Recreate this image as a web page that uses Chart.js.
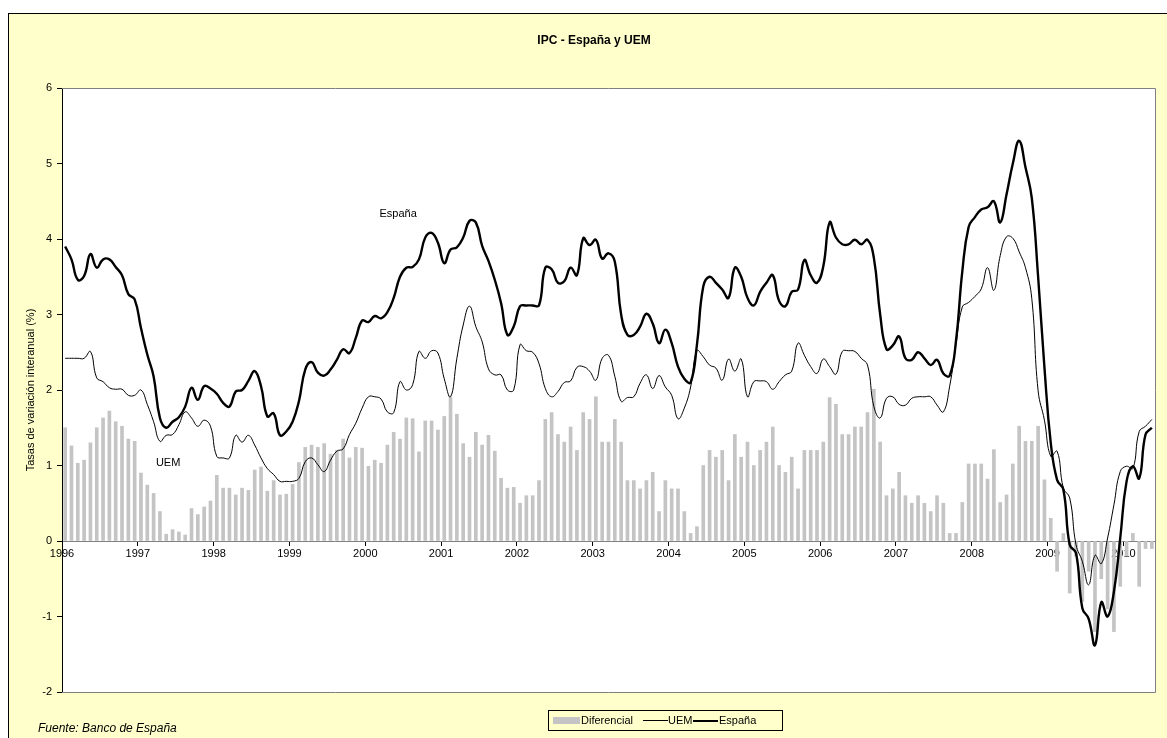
<!DOCTYPE html>
<html lang="es">
<head>
<meta charset="utf-8">
<title>IPC - España y UEM</title>
<script src="https://cdn.jsdelivr.net/npm/chart.js@4.4.1/dist/chart.umd.min.js"></script>
<style>
  body { margin: 0; width: 1167px; height: 738px; overflow: hidden; background: #fff;
         font-family: "Liberation Sans", Arial, sans-serif; position: relative; }
  #marco { position: absolute; left: 8px; top: 13px; width: 1180px; height: 740px;
           border: 1px solid #000; background: #FFFFCC; }
  #grafico { position: absolute; left: 0; top: 0; }
  #titulo { position: absolute; left: 0; width: 1188px; top: 33px; text-align: center;
            font-weight: bold; font-size: 12px; color: #000; }
  #fuente { position: absolute; left: 38px; top: 721px; font-style: italic; font-size: 12px; color: #000; }
  #leyenda { position: absolute; left: 548px; top: 710px; width: 233px; height: 19px;
             border: 1px solid #000; font-size: 11px; color: #000; }
  #leyenda span { position: absolute; top: 3px; }
  #leyenda i { position: absolute; display: block; }
</style>
</head>
<body>
<div id="marco"></div>
<canvas id="grafico" width="1167" height="738"></canvas>
<div id="titulo">IPC - España y UEM</div>
<div id="fuente">Fuente: Banco de España</div>
<div id="leyenda">
  <i style="left:4px;top:6px;width:27px;height:7px;background:#C4C4C4"></i>
  <span style="left:32px">Diferencial</span>
  <i style="left:94px;top:9px;width:25px;height:0;border-top:1px solid #000"></i>
  <span style="left:119px">UEM</span>
  <i style="left:144px;top:9px;width:25px;height:0;border-top:2px solid #000"></i>
  <span style="left:170px">España</span>
</div>
<script>
// meses desde enero de 1996 (indice 0) hasta mayo de 2010
var anios = [1996, 1997, 1998, 1999, 2000, 2001, 2002, 2003, 2004, 2005, 2006, 2007, 2008, 2009, 2010];

// Tasas de variacion interanual, Espana (linea gruesa)
var espana = [
  3.90, 3.73, 3.46, 3.51, 3.80, 3.62, 3.73, 3.73, 3.63, 3.52, 3.27, 3.20,
  2.82, 2.47, 2.18, 1.63, 1.50, 1.58, 1.64, 1.78, 2.03, 1.87, 2.05, 2.02,
  1.95, 1.83, 1.78, 1.98, 2.00, 2.12, 2.25, 2.05, 1.65, 1.69, 1.40, 1.45,
  1.58, 1.85, 2.27, 2.37, 2.23, 2.19, 2.27, 2.40, 2.54, 2.49, 2.69, 2.92,
  2.90, 2.98, 2.95, 3.03, 3.22, 3.50, 3.62, 3.63, 3.73, 4.02, 4.08, 3.95,
  3.68, 3.86, 3.89, 4.02, 4.24, 4.22, 3.91, 3.71, 3.46, 3.15, 2.73, 2.84,
  3.11, 3.12, 3.12, 3.12, 3.62, 3.60, 3.42, 3.44, 3.62, 3.52, 4.01, 3.92,
  3.99, 3.74, 3.81, 3.70, 3.00, 2.73, 2.73, 2.84, 3.01, 2.88, 2.62, 2.80,
  2.62, 2.31, 2.15, 2.10, 2.60, 3.37, 3.50, 3.42, 3.33, 3.22, 3.62, 3.50,
  3.22, 3.12, 3.30, 3.42, 3.52, 3.18, 3.11, 3.30, 3.33, 3.72, 3.52, 3.42,
  3.64, 4.22, 4.02, 3.93, 3.93, 3.99, 3.93, 3.99, 3.75, 3.00, 2.54, 2.59,
  2.71, 2.42, 2.40, 2.50, 2.42, 2.33, 2.40, 2.22, 2.19, 2.65, 3.57, 4.16,
  4.29, 4.39, 4.42, 4.50, 4.22, 4.59, 5.00, 5.30, 4.95, 4.54, 3.50, 2.30,
  1.30, 0.81, 0.68, -0.05, -0.16, -0.89, -1.03, -1.38, -0.81, -1.00, -0.67, 0.04,
  0.79, 0.99, 0.83, 1.41, 1.50
];

// Tasas de variacion interanual, UEM (linea fina)
var uem = [
  2.42, 2.42, 2.42, 2.42, 2.51, 2.16, 2.11, 2.03, 2.01, 2.01, 1.93, 1.93,
  2.00, 1.81, 1.58, 1.32, 1.40, 1.41, 1.54, 1.71, 1.63, 1.52, 1.60, 1.52,
  1.12, 1.10, 1.10, 1.40, 1.31, 1.40, 1.27, 1.10, 0.96, 0.88, 0.79, 0.79,
  0.79, 0.83, 1.05, 1.10, 1.01, 0.92, 1.07, 1.19, 1.22, 1.41, 1.56, 1.76,
  1.91, 1.91, 1.88, 1.71, 1.70, 2.11, 2.00, 2.07, 2.51, 2.42, 2.52, 2.49,
  2.15, 1.91, 2.42, 2.86, 3.11, 2.84, 2.64, 2.28, 2.20, 2.20, 2.00, 2.00,
  2.60, 2.52, 2.50, 2.35, 2.02, 1.91, 1.98, 2.10, 2.12, 2.30, 2.31, 2.25,
  2.13, 2.42, 2.46, 2.18, 1.85, 1.90, 1.91, 2.09, 2.20, 2.02, 2.19, 2.04,
  1.93, 1.62, 1.76, 2.04, 2.52, 2.44, 2.33, 2.29, 2.13, 2.41, 2.25, 2.41,
  1.91, 2.11, 2.12, 2.11, 2.01, 2.11, 2.20, 2.25, 2.62, 2.46, 2.31, 2.22,
  2.41, 2.31, 2.21, 2.51, 2.52, 2.51, 2.42, 2.33, 1.78, 1.63, 1.89, 1.91,
  1.81, 1.80, 1.89, 1.91, 1.91, 1.91, 1.80, 1.71, 2.05, 2.60, 3.10, 3.16,
  3.24, 3.34, 3.62, 3.32, 3.78, 4.03, 4.01, 3.83, 3.62, 3.21, 1.99, 1.60,
  1.12, 1.19, 0.70, 0.57, -0.05, -0.27, -0.58, -0.19, -0.30, 0.04, 0.48, 0.92,
  0.99, 0.96, 1.45, 1.52, 1.61
];

// Diferencial Espana - UEM (barras)
var diferencial = [
  1.50, 1.26, 1.03, 1.07, 1.30, 1.50, 1.63, 1.72, 1.58, 1.52, 1.35, 1.32,
  0.90, 0.74, 0.63, 0.39, 0.09, 0.15, 0.12, 0.08, 0.43, 0.35, 0.45, 0.53,
  0.87, 0.70, 0.70, 0.61, 0.70, 0.67, 0.94, 0.98, 0.66, 0.80, 0.61, 0.62,
  0.75, 1.04, 1.24, 1.27, 1.24, 1.29, 1.15, 1.20, 1.35, 1.10, 1.24, 1.23,
  0.99, 1.07, 1.03, 1.27, 1.44, 1.35, 1.63, 1.62, 1.18, 1.59, 1.59, 1.47,
  1.65, 1.90, 1.68, 1.29, 1.11, 1.44, 1.27, 1.40, 1.19, 0.83, 0.70, 0.71,
  0.50, 0.60, 0.60, 0.80, 1.61, 1.70, 1.41, 1.31, 1.51, 1.20, 1.70, 1.61,
  1.91, 1.31, 1.31, 1.61, 1.31, 0.80, 0.80, 0.69, 0.80, 0.91, 0.39, 0.80,
  0.69, 0.69, 0.39, 0.10, 0.19, 1.00, 1.20, 1.11, 1.20, 0.80, 1.41, 1.11,
  1.31, 1.00, 1.20, 1.31, 1.51, 1.00, 0.91, 1.11, 0.69, 1.20, 1.20, 1.20,
  1.31, 1.90, 1.81, 1.41, 1.41, 1.51, 1.51, 1.70, 2.01, 1.31, 0.60, 0.69,
  0.91, 0.60, 0.50, 0.60, 0.50, 0.39, 0.60, 0.50, 0.10, 0.10, 0.51, 1.02,
  1.02, 1.02, 0.82, 1.21, 0.51, 0.61, 1.02, 1.52, 1.32, 1.32, 1.52, 0.81,
  0.30, -0.40, 0.10, -0.69, -0.20, -0.80, -0.40, -1.20, -0.50, -0.90, -1.20, -0.60,
  -0.20, 0.10, -0.60, -0.10, -0.10
];

// rotulos dentro del grafico: [texto, mes, valor]
var rotulos = [["España", 53.2, 4.33], ["UEM", 16.8, 1.04]];

var yTicks = [-2, -1, 0, 1, 2, 3, 4, 5, 6];

// cada mes se dibuja en el centro de su intervalo
function puntos(serie) {
  return serie.map(function(v, i) { return { x: i + 0.5, y: v }; });
}

var fuente = '"Liberation Sans", Arial, sans-serif';

var fondoPlot = {
  id: 'fondoPlot',
  beforeDraw: function(chart) {
    var a = chart.chartArea, ctx = chart.ctx;
    ctx.save();
    ctx.fillStyle = '#ffffff';
    ctx.fillRect(a.left, a.top, a.right - a.left, a.bottom - a.top);
    ctx.restore();
  },
  afterDraw: function(chart) {
    var a = chart.chartArea, ctx = chart.ctx;
    ctx.save();
    ctx.strokeStyle = '#808080';
    ctx.lineWidth = 1;
    ctx.beginPath();
    ctx.moveTo(a.left, a.top + 0.5);
    ctx.lineTo(a.right + 0.5, a.top + 0.5);
    ctx.lineTo(a.right + 0.5, a.bottom + 0.5);
    ctx.lineTo(a.left, a.bottom + 0.5);
    ctx.stroke();
    // rotulos de series
    var sx = chart.scales.x, sy = chart.scales.y;
    ctx.fillStyle = '#000';
    ctx.font = '11px ' + fuente;
    ctx.textAlign = 'center';
    ctx.textBaseline = 'middle';
    rotulos.forEach(function(r) {
      ctx.fillText(r[0], sx.getPixelForValue(r[1]), sy.getPixelForValue(r[2]));
    });
    ctx.restore();
  }
};

new Chart(document.getElementById('grafico'), {
  type: 'bar',
  data: {
    datasets: [
      { type: 'line', label: 'España', data: puntos(espana), borderColor: '#000',
        borderWidth: 2.4, pointRadius: 0, tension: 0.45, order: 1 },
      { type: 'line', label: 'UEM', data: puntos(uem), borderColor: '#000',
        borderWidth: 1, pointRadius: 0, tension: 0.45, order: 2 },
      { type: 'bar', label: 'Diferencial', data: puntos(diferencial), backgroundColor: '#C4C4C4',
        barThickness: 3, order: 3 }
    ]
  },
  options: {
    responsive: false,
    animation: false,
    devicePixelRatio: 1,
    layout: { padding: { left: 24, top: 88, right: 12, bottom: 46 } },
    plugins: { legend: { display: false }, tooltip: { enabled: false }, title: { display: false } },
    scales: {
      x: {
        type: 'linear',
        position: { y: 0 },
        offset: false,
        min: 0,
        max: diferencial.length,
        afterBuildTicks: function(ax) {
          ax.ticks = anios.map(function(a, k) { return { value: k * 12 }; });
        },
        ticks: {
          autoSkip: false, maxRotation: 0, padding: 2, color: '#000',
          font: { family: fuente, size: 11 },
          callback: function(v, k) { return String(anios[k]); }
        },
        grid: { offset: false, drawOnChartArea: false, tickLength: 4, color: '#000' },
        border: { color: '#808080' }
      },
      y: {
        min: -2,
        max: 6,
        afterBuildTicks: function(ax) {
          ax.ticks = yTicks.map(function(v) { return { value: v }; });
        },
        afterFit: function(ax) { ax.width = 38; },
        ticks: { padding: 5, color: '#000', font: { family: fuente, size: 11 } },
        grid: { drawOnChartArea: false, tickLength: 5, color: '#000' },
        border: { color: '#000' },
        title: { display: true, text: 'Tasas de variación interanual (%)', color: '#000',
                 font: { family: fuente, size: 11 }, padding: 0 }
      }
    }
  },
  plugins: [fondoPlot]
});
</script>
</body>
</html>
